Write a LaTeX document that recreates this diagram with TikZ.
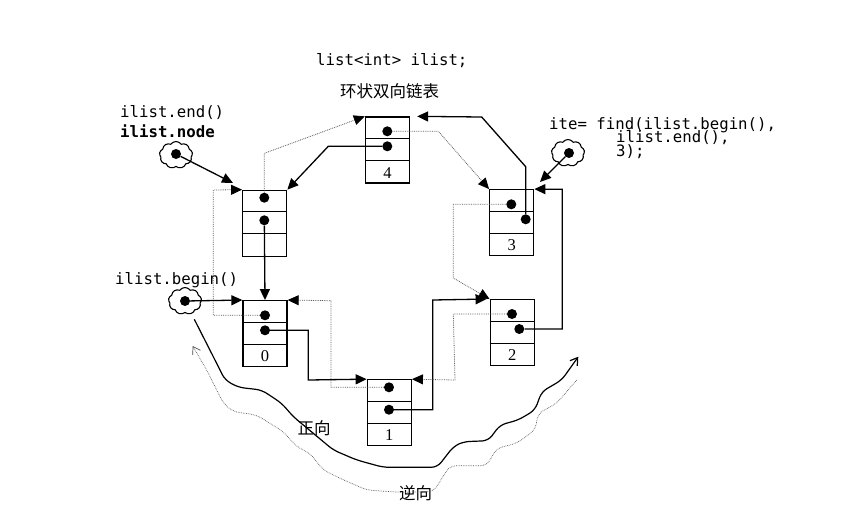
\documentclass[tikz,border=0pt]{standalone}
\usepackage{fontspec}
\setmainfont{Liberation Serif}
\newfontfamily\codefont{DejaVu Sans Mono}
\newfontfamily\cjkfont{Noto Sans CJK SC}
\usetikzlibrary{arrows.meta,calc,shapes.symbols}
\tikzset{
  cellbox/.style={draw=black,line width=1.3pt,minimum width=44pt,minimum height=66pt,inner sep=0pt},
  divider/.style={draw=black,line width=1.1pt},
  celldot/.style={circle,fill=black,minimum size=10pt,inner sep=0pt},
  nextlink/.style={draw=black,line width=1.3pt,-{Triangle[length=11pt,width=10pt,black]}},
  prevlink/.style={draw=black!65,line width=0.8pt,densely dotted,-{Triangle[length=11pt,width=10pt,black]}},
  puff/.style={cloud,cloud puffs=9,cloud puff arc=110,draw=black,line width=1.1pt,minimum width=33pt,minimum height=27pt,inner sep=0pt,aspect=1.2},
  code/.style={font=\codefont\fontsize{15.7}{18}\selectfont,anchor=base west,inner sep=0pt},
  cjk/.style={font=\cjkfont\fontsize{16.5}{18}\selectfont,inner sep=0pt},
  digit/.style={font=\fontsize{16.5}{18}\selectfont,inner sep=0pt},
  wavefwd/.style={draw=black,line width=1.2pt},
  waveback/.style={draw=black!65,line width=0.7pt,densely dotted},
}
\newcommand{\listcell}[4]{%
  \node[cellbox] (#1) at (#2,#3) {};
  \draw[divider] ($(#1.north west)+(0,22)$) -- ($(#1.north east)+(0,22)$);
  \draw[divider] ($(#1.north west)+(0,44)$) -- ($(#1.north east)+(0,44)$);
  \node[digit] (#1label) at ($(#1.south)+(0,-11)$) {#4};
}
\begin{document}
\begin{tikzpicture}[x=1pt,y=-1pt]
\useasboundingbox (0,0) rectangle (862,515);
\fill[white] (0,0) rectangle (862,515);

% list cells
\listcell{nE}{264.7}{223.3}{}
\listcell{nZero}{265}{333.7}{0}
\listcell{nOne}{389.3}{412.8}{1}
\listcell{nTwo}{512.2}{332.7}{2}
\listcell{nThree}{511.7}{222.7}{3}
\listcell{nFour}{387.5}{150}{4}

% dots
\node[celldot] (eA) at (264.3,197.7) {};
\node[celldot] (eB) at (264.3,220.3) {};
\node[celldot] (zA) at (265,315.3) {};
\node[celldot] (zB) at (265,330.3) {};
\node[celldot] (oA) at (389,387.3) {};
\node[celldot] (oB) at (389,409.7) {};
\node[celldot] (tA) at (512,314) {};
\node[celldot] (tB) at (519.3,329) {};
\node[celldot] (hA) at (511.3,204.3) {};
\node[celldot] (hB) at (525.7,219.3) {};
\node[celldot] (fA) at (387.3,131.3) {};
\node[celldot] (fB) at (387.3,146.3) {};

% next links
\draw[nextlink] (eB) -- (zB |- nZero.north);
\draw[nextlink] (zB) -- (308.3,330.3) -- (308.3,380) -- (nOne.north west);
\draw[nextlink] (oB) -- (432.7,409.7) -- (432.7,300) -- ($(nTwo.north west)+(-3,0)$);
\draw[nextlink] (tB) -- (562.3,329) -- (562.3,189.3) -- (nThree.north east);
\draw[nextlink] (hB) -- (525.7,166.7) -- (481.7,117) -- ($(nFour.north east)+(7,0)$);
\draw[nextlink] (fB) -- (328.3,146.3) -- (nE.north east);

% prev links
\draw[prevlink] (zA) -- (213.3,315.3) -- (213.3,190) -- (nE.north west);
\draw[prevlink] (eA) -- (264.3,153.3) -- (nFour.north west);
\draw[prevlink] (fA) -- (438.3,131.3) -- (nThree.north west);
\draw[prevlink] (hA) -- (453.3,204.3) -- (453.3,278) -- (nTwo.north west);
\draw[prevlink] (tA) -- (453.3,314) -- (455,380) -- (nOne.north east);
\draw[prevlink] (oA) -- (331,387.3) -- (331,300.7) -- (nZero.north east);

% iterators
\node[puff] (cEnd) at (176,155) {};
\node[puff] (cBegin) at (185,301) {};
\node[puff] (cIte) at (568,153) {};
\node[celldot] (dEnd) at (176,154) {};
\node[celldot] (dBegin) at (185,301) {};
\node[celldot] (dIte) at (569,153) {};
\coordinate (tipEnd) at (233,183);
\coordinate (tipIte) at (540,182);
\draw[nextlink] (dEnd) -- (tipEnd);
\draw[nextlink] (dBegin) -- (nZero.north west);
\draw[nextlink] (dIte) -- (tipIte);

% texts
\node[code] (tTitle) at (316,65) {list<int> ilist;};
\node[cjk] (tRing) at (389.5,91) {环状双向链表};
\node[code] (tEnd) at (120,117.5) {ilist.end()};
\node[code,font=\codefont\bfseries\fontsize{15.7}{18}\selectfont] (tNode) at (120,137.5) {ilist.node};
\node[code] (tBegin) at (115,284) {ilist.begin()};
\node[code] (tIteA) at (549,129) {ite= find(ilist.begin(),};
\node[code] (tIteB) at (616,142.5) {ilist.end(),};
\node[code] (tIteC) at (616,156.5) {3);};
\node[cjk] (tFwd) at (314,428) {正向};
\node[cjk] (tBack) at (415.5,493) {逆向};

% direction curves
\coordinate (fwdStart) at (194.3,319.3);
\coordinate (fwdEnd) at (578.3,356.7);
\draw[wavefwd,-{Straight Barb[length=7pt,width=9pt]},rounded corners=6pt]
  (fwdStart) -- (213.3,356.7) -- (225,380) -- (238.3,387.3) -- (261.7,390)
  -- (281.7,403.3) -- (293.3,416.7) -- (313.3,433.3) -- (333.3,450) -- (356.7,460)
  -- (383.3,467.3) -- (400,467.3) -- (437.3,467.3) -- (453.3,446.7) -- (463.3,441.7)
  -- (488.3,440.7) -- (500,425) -- (518.3,420) -- (535,410) -- (541.7,391.7)
  -- (561.7,380) -- (fwdEnd);
\coordinate (backStart) at (576.7,380);
\coordinate (backEnd) at (192.7,346);
\draw[waveback,-{Straight Barb[length=7pt,width=9pt,black!70]},rounded corners=6pt]
  (backStart) -- (556.7,403.3) -- (538.3,413.3) -- (535,430) -- (516.7,443.3)
  -- (496.7,448.3) -- (486.7,465.7) -- (450,465.7) -- (433.3,491.7) -- (400,492.3)
  -- (366.7,490) -- (340,478.3) -- (323.3,470) -- (310,453.3) -- (296.7,446.7)
  -- (283.3,431.7) -- (256.7,415) -- (233.3,411.7) -- (223.3,403.3) -- (206.7,370) -- (backEnd);
\end{tikzpicture}
\end{document}
